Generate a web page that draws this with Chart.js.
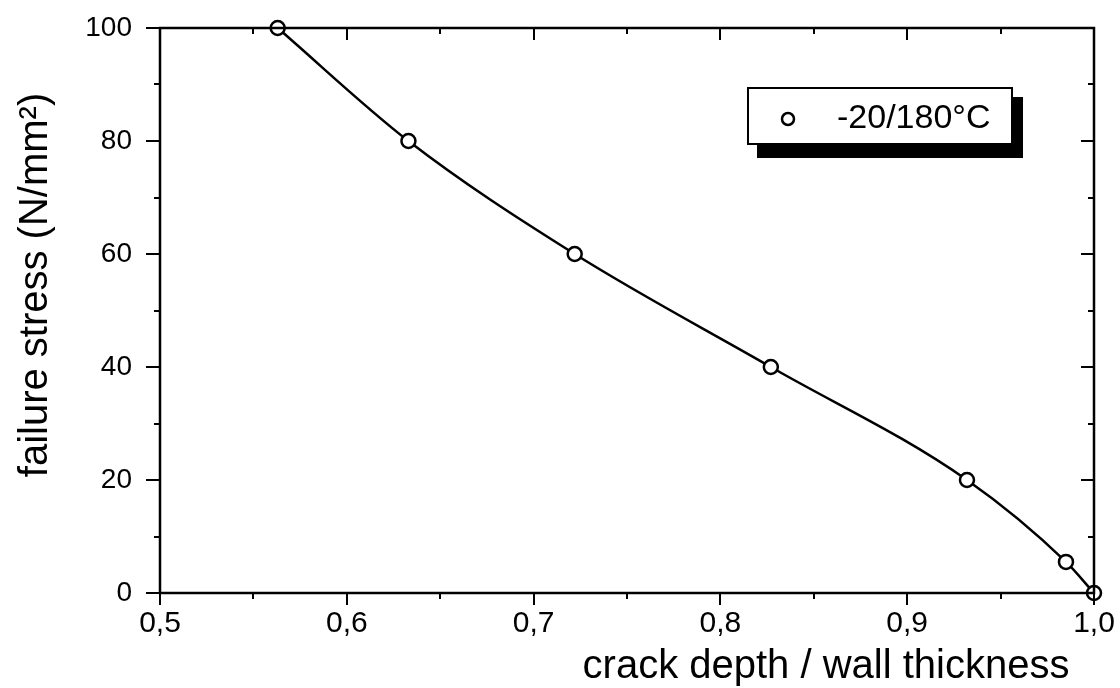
<!DOCTYPE html>
<html>
<head>
<meta charset="utf-8">
<script src="https://cdn.jsdelivr.net/npm/chart.js@4.4.1/dist/chart.umd.min.js"></script>
<style>
  html, body { margin: 0; padding: 0; background: #fff; }
  #wrap { width: 1120px; height: 688px; position: relative; }
</style>
</head>
<body>
<div id="wrap"><canvas id="c" width="1120" height="688"></canvas></div>
<script>
// ---- data ----
const crackRatio = [0.563, 0.633, 0.722, 0.827, 0.932, 0.985, 1.0];
const failureStress = [100, 80, 60, 40, 20, 5.5, 0];
const seriesLabel = '-20/180°C';
const xTickLabels = ['0,5', '0,6', '0,7', '0,8', '0,9', '1,0'];
const yTickLabels = ['0', '20', '40', '60', '80', '100'];
const xTitle = 'crack depth / wall thickness';
const yTitle = 'failure stress (N/mm²)';

const FONT = '"Liberation Sans", Arial, sans-serif';

const points = crackRatio.map((x, i) => ({ x: x, y: failureStress[i] }));

const framePlugin = {
  id: 'frame',
  afterDraw(chart) {
    const ctx = chart.ctx;
    const a = chart.chartArea;
    const xs = chart.scales.x, ys = chart.scales.y;
    ctx.save();
    ctx.strokeStyle = '#000';
    ctx.lineWidth = 2.5;
    ctx.strokeRect(a.left, a.top, a.right - a.left, a.bottom - a.top);
    ctx.lineWidth = 2;
    // x ticks
    for (let k = 0; k <= 10; k++) {
      const v = 0.5 + k * 0.05;
      const major = k % 2 === 0;
      const px = Math.round(xs.getPixelForValue(v));
      const len = major ? 12 : 6;
      ctx.beginPath();
      ctx.moveTo(px, a.bottom); ctx.lineTo(px, a.bottom + len);
      ctx.moveTo(px, a.top); ctx.lineTo(px, a.top + len);
      ctx.stroke();
    }
    // y ticks
    for (let v = 0; v <= 100; v += 10) {
      const major = v % 20 === 0;
      const py = Math.round(ys.getPixelForValue(v));
      ctx.beginPath();
      ctx.moveTo(a.left, py); ctx.lineTo(a.left - (major ? 14 : 6), py);
      ctx.moveTo(a.right, py); ctx.lineTo(a.right - (major ? 13 : 6), py);
      ctx.stroke();
    }
    // axis titles
    ctx.fillStyle = '#000';
    ctx.font = '40px ' + FONT;
    ctx.textAlign = 'center';
    ctx.textBaseline = 'alphabetic';
    ctx.fillText(xTitle, 826, 678);
    ctx.save();
    ctx.translate(47, 285);
    ctx.rotate(-Math.PI / 2);
    ctx.fillText(yTitle, 0, 0);
    ctx.restore();
    // legend box with shadow
    ctx.fillStyle = '#000';
    ctx.fillRect(757, 97, 266, 61);
    ctx.fillStyle = '#fff';
    ctx.fillRect(747, 87, 266, 58);
    ctx.lineWidth = 2;
    ctx.strokeRect(748, 88, 264, 56);
    ctx.lineWidth = 2.5;
    ctx.beginPath();
    ctx.arc(788, 119, 6, 0, Math.PI * 2);
    ctx.stroke();
    ctx.fillStyle = '#000';
    ctx.font = '34px ' + FONT;
    ctx.textAlign = 'left';
    ctx.textBaseline = 'middle';
    ctx.fillText(chart.data.datasets[0].label, 837, 119);
    ctx.restore();
  }
};

new Chart(document.getElementById('c'), {
  type: 'scatter',
  data: {
    datasets: [{
      label: seriesLabel,
      data: points,
      showLine: true,
      cubicInterpolationMode: 'monotone',
      borderColor: '#000',
      borderWidth: 2.5,
      pointRadius: 7,
      pointBorderWidth: 2.5,
      pointBackgroundColor: '#fff',
      pointBorderColor: '#000',
      clip: false
    }]
  },
  options: {
    responsive: false,
    animation: false,
    devicePixelRatio: 1,
    layout: { padding: { top: 28, right: 26, left: 0, bottom: 0 } },
    plugins: { legend: { display: false }, tooltip: { enabled: false } },
    scales: {
      x: {
        type: 'linear', min: 0.5, max: 1.0,
        grid: { display: false, drawTicks: false },
        border: { display: false },
        afterFit(s) { s.height = 95; s.paddingLeft = 0; s.paddingRight = 0; },
        ticks: {
          stepSize: 0.1, padding: 13, color: '#000', maxRotation: 0,
          font: { family: FONT, size: 30 },
          callback: (v, i) => xTickLabels[i]
        }
      },
      y: {
        type: 'linear', min: 0, max: 100,
        grid: { display: false, drawTicks: false },
        border: { display: false },
        afterFit(s) { s.width = 160; s.paddingTop = 0; s.paddingBottom = 0; },
        ticks: {
          stepSize: 20, padding: 28, color: '#000',
          font: { family: FONT, size: 28 },
          callback: (v, i) => yTickLabels[i]
        }
      }
    }
  },
  plugins: [framePlugin]
});
</script>
</body>
</html>
